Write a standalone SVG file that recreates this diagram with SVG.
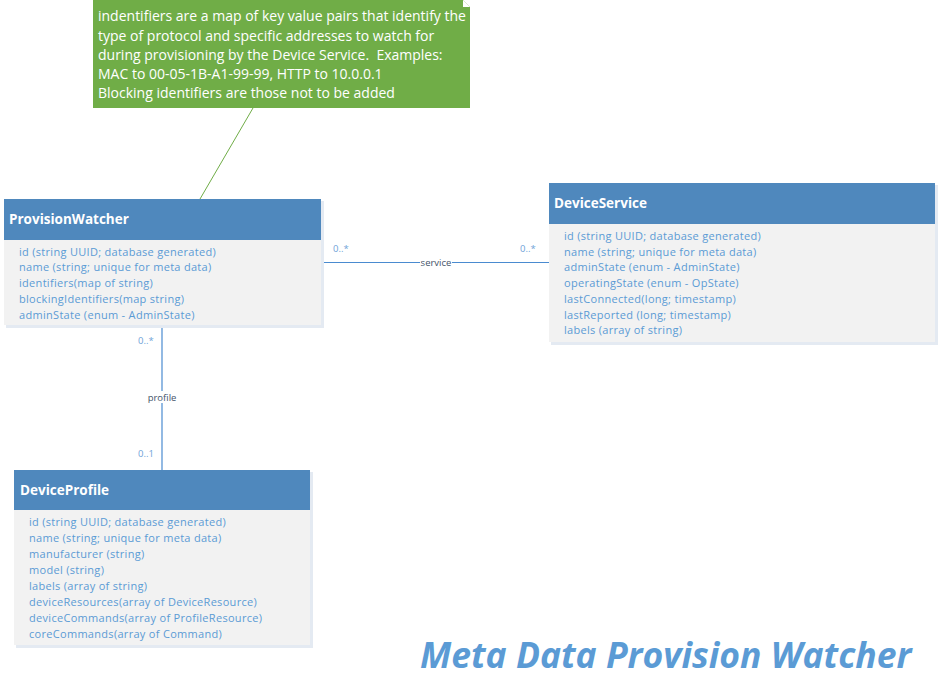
<svg xmlns="http://www.w3.org/2000/svg" width="939" height="700" viewBox="0 0 939 700">
<style>
.hdr{fill:#4F88BD;}
.body{fill:#F2F2F2;}
.shadow{fill:#E4EAF2;}
.title{font-family:"Open Sans","Liberation Sans",sans-serif;font-size:13.5px;font-weight:bold;fill:#FFFFFF;}
.attr{font-family:"Open Sans","Liberation Sans",sans-serif;font-size:11px;letter-spacing:0.3px;fill:#5B9BD5;}
.mult{font-family:"Open Sans","Liberation Sans",sans-serif;font-size:9.5px;fill:#6FA3D8;}
.lbl{font-family:"Open Sans","Liberation Sans",sans-serif;font-size:9.5px;fill:#44546A;}
.conn{stroke:#4A8BD0;stroke-width:1.2;fill:none;}
.note{font-family:"Open Sans","Liberation Sans",sans-serif;font-size:14px;fill:#FFFFFF;}
</style>
<rect width="939" height="700" fill="#FFFFFF"/>
<g id="connectors">
<line class="conn" x1="321" y1="262.5" x2="549" y2="262.5"/>
<line class="conn" x1="162" y1="325" x2="162" y2="470"/>
<line x1="253" y1="108" x2="200" y2="199" stroke="#70AD47" stroke-width="1"/>
<rect x="420" y="257" width="32" height="11" fill="#FFFFFF"/>
<text class="lbl" x="436" y="266" text-anchor="middle">service</text>
<rect x="145" y="391" width="34" height="12" fill="#FFFFFF"/>
<text class="lbl" x="162" y="401" text-anchor="middle">profile</text>
<text class="mult" x="333" y="252">0..*</text>
<text class="mult" x="520" y="252">0..*</text>
<text class="mult" x="138" y="344">0..*</text>
<text class="mult" x="138" y="457">0..1</text>
</g>
<g id="note">
<path d="M93 0 H463 L470 7 V108 H93 Z" fill="#70AD47"/>
<path d="M463 0 L470 7 L463 7 Z" fill="#FFFFFF"/>
<text class="note" x="98" y="21">indentifiers are a map of key value pairs that identify the</text>
<text class="note" x="98" y="41">type of protocol and specific addresses to watch for</text>
<text class="note" x="98" y="60">during provisioning by the Device Service.&#160; Examples:</text>
<text class="note" x="98" y="79">MAC to 00-05-1B-A1-99-99, HTTP to 10.0.0.1</text>
<text class="note" x="98" y="98">Blocking identifiers are those not to be added</text>
</g>
<g id="ProvisionWatcher">
<rect class="shadow" x="6" y="201" width="318" height="127"/>
<rect class="body" x="4" y="199" width="317" height="126"/>
<rect class="hdr" x="4" y="199" width="317" height="41"/>
<text class="title" x="9" y="224">ProvisionWatcher</text>
<text class="attr" x="19" y="256">id (string UUID; database generated)</text>
<text class="attr" x="19" y="271">name (string; unique for meta data)</text>
<text class="attr" x="19" y="287">identifiers(map of string)</text>
<text class="attr" x="19" y="303">blockingIdentifiers(map string)</text>
<text class="attr" x="19" y="319">adminState (enum - AdminState)</text>
</g>
<g id="DeviceService">
<rect class="shadow" x="551" y="185" width="387" height="160"/>
<rect class="body" x="549" y="183" width="386" height="159"/>
<rect class="hdr" x="549" y="183" width="386" height="41"/>
<text class="title" x="554" y="208">DeviceService</text>
<text class="attr" x="564" y="240">id (string UUID; database generated)</text>
<text class="attr" x="564" y="256">name (string; unique for meta data)</text>
<text class="attr" x="564" y="271">adminState (enum - AdminState)</text>
<text class="attr" x="564" y="287">operatingState (enum - OpState)</text>
<text class="attr" x="564" y="303">lastConnected(long; timestamp)</text>
<text class="attr" x="564" y="319">lastReported (long; timestamp)</text>
<text class="attr" x="564" y="334">labels (array of string)</text>
</g>
<g id="DeviceProfile">
<rect class="shadow" x="16" y="472" width="297" height="176"/>
<rect class="body" x="14" y="470" width="296" height="175"/>
<rect class="hdr" x="14" y="470" width="296" height="40"/>
<text class="title" x="20" y="495">DeviceProfile</text>
<text class="attr" x="29" y="526">id (string UUID; database generated)</text>
<text class="attr" x="29" y="542">name (string; unique for meta data)</text>
<text class="attr" x="29" y="558">manufacturer (string)</text>
<text class="attr" x="29" y="574">model (string)</text>
<text class="attr" x="29" y="590">labels (array of string)</text>
<text class="attr" x="29" y="606">deviceResources(array of DeviceResource)</text>
<text class="attr" x="29" y="622">deviceCommands(array of ProfileResource)</text>
<text class="attr" x="29" y="638">coreCommands(array of Command)</text>
</g>
<text x="420" y="668" font-family="Open Sans, Liberation Sans, sans-serif" font-size="35.5" font-style="italic" font-weight="bold" fill="#5B9BD5">Meta Data Provision Watcher</text>
</svg>
